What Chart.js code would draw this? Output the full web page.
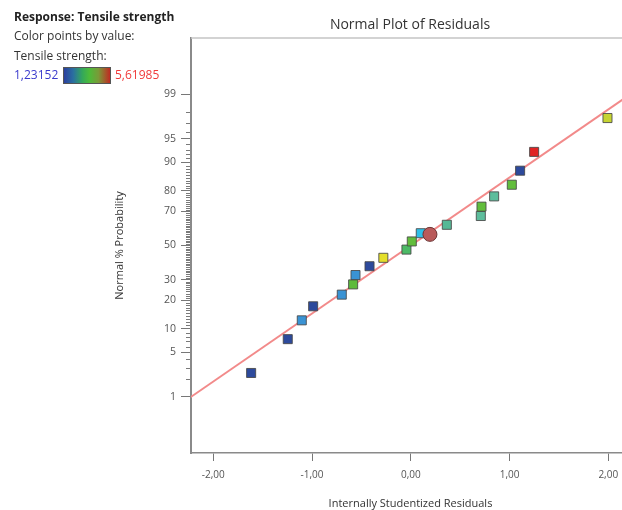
<!DOCTYPE html>
<html>
<head>
<meta charset="utf-8">
<script src="https://cdn.jsdelivr.net/npm/chart.js@4.4.1/dist/chart.umd.min.js"></script>
<style>
  html, body { margin: 0; padding: 0; background: #fff; overflow: hidden; }
  #wrap { position: relative; width: 622px; height: 510px; overflow: hidden; font-family: "Open Sans", "Noto Sans", sans-serif; }
  #c { position: absolute; left: 0; top: 0; }
  .lg { position: absolute; left: 14px; font-size: 12px; color: #333; white-space: nowrap; line-height: 14px; }
  #title { position: absolute; left: 260px; width: 300px; top: 15px; text-align: center; font-size: 14px; line-height: 18px; color: #333; white-space: nowrap; }
  #bar { position: absolute; left: 63px; top: 67px; width: 46px; height: 15px; border: 1px solid #555;
         background: linear-gradient(to right, #2b3f9e 0%, #2a6fa0 20%, #34a85a 40%, #4cbb3a 55%, #7a9a38 75%, #c02a22 100%); }
</style>
</head>
<body>
<div id="wrap">
  <canvas id="c" width="638" height="510"></canvas>
  <div id="title">Normal Plot of Residuals</div>
  <div class="lg" style="top:10px;font-weight:bold;color:#222;">Response: Tensile strength</div>
  <div class="lg" style="top:29px;">Color points by value:</div>
  <div class="lg" style="top:49px;">Tensile strength:</div>
  <div class="lg" style="top:68px;color:#3a3acc;">1,23152</div>
  <div id="bar"></div>
  <div class="lg" style="top:68px;left:115px;color:#f03a3a;">5,61985</div>
</div>
<script>
// ---- data ----
const residuals = [-1.617, -1.246, -1.104, -0.989, -0.699, -0.584, -0.560, -0.418, -0.278, -0.044,
                    0.010,  0.101,  0.365,  0.709,  0.716,  0.844,  1.023,  1.107,  1.249,  1.992];
const probabilities = [2.5, 7.5, 12.5, 17.5, 22.5, 27.5, 32.5, 37.5, 42.5, 47.5,
                       52.5, 57.5, 62.5, 67.5, 72.5, 77.5, 82.5, 87.5, 92.5, 97.5];
const pointColors = ['#2d4a9c', '#2d4a9c', '#3a93d4', '#2d4a9c', '#3a93d4', '#5dbb3c', '#3a93d4', '#2d4a9c', '#e4df2a', '#4cba66',
                     '#62bd3c', '#2ebfe8', '#56b896', '#5dbd9c', '#62bd3c', '#5dbd9c', '#62bd3c', '#2d4a9c', '#e02424', '#c6d432'];
const highlightResidual = [0.194];
const highlightProb = [56.8];
const fitLineX = [-2.30, 2.30];
const fitLineP = [0.81, 99.19];
const xTickValues = [-2, -1, 0, 1, 2];
const yMajorTicks = [1, 5, 10, 20, 30, 50, 70, 80, 90, 95, 99];
const yRange = [0.0711, 99.929];
const xRange = [-2.226, 2.220];

// ---- inverse normal CDF (Acklam) ----
function probit(p) {
  const a = [-3.969683028665376e+01, 2.209460984245205e+02, -2.759285104469687e+02, 1.383577518672690e+02, -3.066479806614716e+01, 2.506628277459239e+00];
  const b = [-5.447609879822406e+01, 1.615858368580409e+02, -1.556989798598866e+02, 6.680131188771972e+01, -1.328068155288572e+01];
  const c = [-7.784894002430293e-03, -3.223964580411365e-01, -2.400758277161838e+00, -2.549732539343734e+00, 4.374664141464968e+00, 2.938163982698783e+00];
  const d = [7.784695709041462e-03, 3.224671290700398e-01, 2.445134137142996e+00, 3.754408661907416e+00];
  const pl = 0.02425, ph = 1 - pl;
  let q, r;
  if (p < pl) { q = Math.sqrt(-2 * Math.log(p)); return (((((c[0]*q+c[1])*q+c[2])*q+c[3])*q+c[4])*q+c[5]) / ((((d[0]*q+d[1])*q+d[2])*q+d[3])*q+1); }
  if (p <= ph) { q = p - 0.5; r = q*q; return (((((a[0]*r+a[1])*r+a[2])*r+a[3])*r+a[4])*r+a[5])*q / (((((b[0]*r+b[1])*r+b[2])*r+b[3])*r+b[4])*r+1); }
  q = Math.sqrt(-2 * Math.log(1 - p)); return -(((((c[0]*q+c[1])*q+c[2])*q+c[3])*q+c[4])*q+c[5]) / ((((d[0]*q+d[1])*q+d[2])*q+d[3])*q+1);
}
function normCdf(z) {
  let lo = 1e-9, hi = 1 - 1e-9;
  for (let i = 0; i < 60; i++) { const m = (lo + hi) / 2; if (probit(m) < z) lo = m; else hi = m; }
  return (lo + hi) / 2;
}

// ---- custom normal-probability scale ----
class ProbitScale extends Chart.Scale {
  determineDataLimits() { this.min = this.options.min; this.max = this.options.max; }
  buildTicks() { return yMajorTicks.map(v => ({ value: v })); }
  configure() {
    super.configure();
    this._zmin = probit(this.min / 100);
    this._zmax = probit(this.max / 100);
  }
  getLabelForValue(v) { return String(v); }
  getPixelForValue(v) {
    const z = probit(v / 100);
    return this.getPixelForDecimal((z - this._zmin) / (this._zmax - this._zmin));
  }
  getValueForPixel(px) {
    const z = this._zmin + this.getDecimalForPixel(px) * (this._zmax - this._zmin);
    return normCdf(z) * 100;
  }
}
ProbitScale.id = 'probit';
ProbitScale.defaults = {};
Chart.register(ProbitScale);

const minorTicks = [];
for (let p = 1; p <= 99; p++) if (!yMajorTicks.includes(p)) minorTicks.push(p);

const extras = {
  id: 'extras',
  afterDraw(chart) {
    const { ctx, chartArea: a, scales: { y } } = chart;
    ctx.save();
    ctx.strokeStyle = '#c4c4c4'; ctx.lineWidth = 1.5;
    ctx.beginPath(); ctx.moveTo(a.left, a.top); ctx.lineTo(a.right + 2, a.top); ctx.stroke();
    ctx.strokeStyle = '#7a7a7a'; ctx.lineWidth = 1;
    ctx.beginPath();
    minorTicks.forEach(p => {
      const py = Math.round(y.getPixelForValue(p)) + 0.5;
      ctx.moveTo(a.left - 5, py); ctx.lineTo(a.left - 1, py);
    });
    ctx.stroke();
    ctx.restore();
  }
};

const fmt = v => v.toFixed(2).replace('.', ',');
const FONT = '"Open Sans", "Noto Sans", sans-serif';

new Chart(document.getElementById('c'), {
  type: 'scatter',
  data: {
    datasets: [
      {
        type: 'line',
        data: fitLineX.map((x, i) => ({ x, y: fitLineP[i] })),
        borderColor: '#f28a8a',
        borderWidth: 2,
        pointRadius: 0,
        fill: false,
        order: 3
      },
      {
        data: residuals.map((x, i) => ({ x, y: probabilities[i] })),
        pointStyle: 'rect',
        pointRadius: 6.4,
        pointBackgroundColor: pointColors,
        pointBorderColor: 'rgba(70,70,70,0.85)',
        pointBorderWidth: 1,
        order: 2
      },
      {
        data: highlightResidual.map((x, i) => ({ x, y: highlightProb[i] })),
        pointStyle: 'circle',
        pointRadius: 7,
        pointBackgroundColor: '#b95a5a',
        pointBorderColor: '#6b3434',
        pointBorderWidth: 1,
        order: 1
      }
    ]
  },
  options: {
    responsive: false,
    animation: false,
    layout: { padding: { left: 0, right: 0, top: 38, bottom: 0 } },
    plugins: {
      legend: { display: false },
      tooltip: { enabled: false },
      title: { display: false }
    },
    scales: {
      x: {
        type: 'linear',
        min: xRange[0], max: xRange[1],
        afterBuildTicks: s => { s.ticks = xTickValues.map(v => ({ value: v })); },
        afterFit: s => { s.height = 57; s.paddingLeft = 0; s.paddingRight = 0; },
        ticks: { callback: v => fmt(v), color: '#555', font: { family: FONT, size: 10 }, padding: 8, autoSkip: false, maxRotation: 0 },
        grid: { drawOnChartArea: false, tickLength: 8, tickColor: '#777', tickWidth: 1 },
        border: { color: '#8a8a8a', width: 1.5 },
        title: { display: true, text: 'Internally Studentized Residuals', color: '#333', font: { family: FONT, size: 11 }, padding: { top: 0, bottom: 0 } }
      },
      y: {
        type: 'probit',
        min: yRange[0], max: yRange[1],
        afterFit: s => { s.width = 191; s.paddingTop = 0; s.paddingBottom = 0; },
        ticks: { callback: v => String(v), color: '#555', font: { family: FONT, size: 10.5 }, padding: 5, autoSkip: false },
        grid: { drawOnChartArea: false, tickLength: 10, tickColor: '#777', tickWidth: 1 },
        border: { color: '#8a8a8a', width: 2 },
        title: { display: true, text: 'Normal % Probability', color: '#333', font: { family: FONT, size: 11 }, padding: { top: 113, bottom: 0 } }
      }
    }
  },
  plugins: [extras]
});
</script>
</body>
</html>
